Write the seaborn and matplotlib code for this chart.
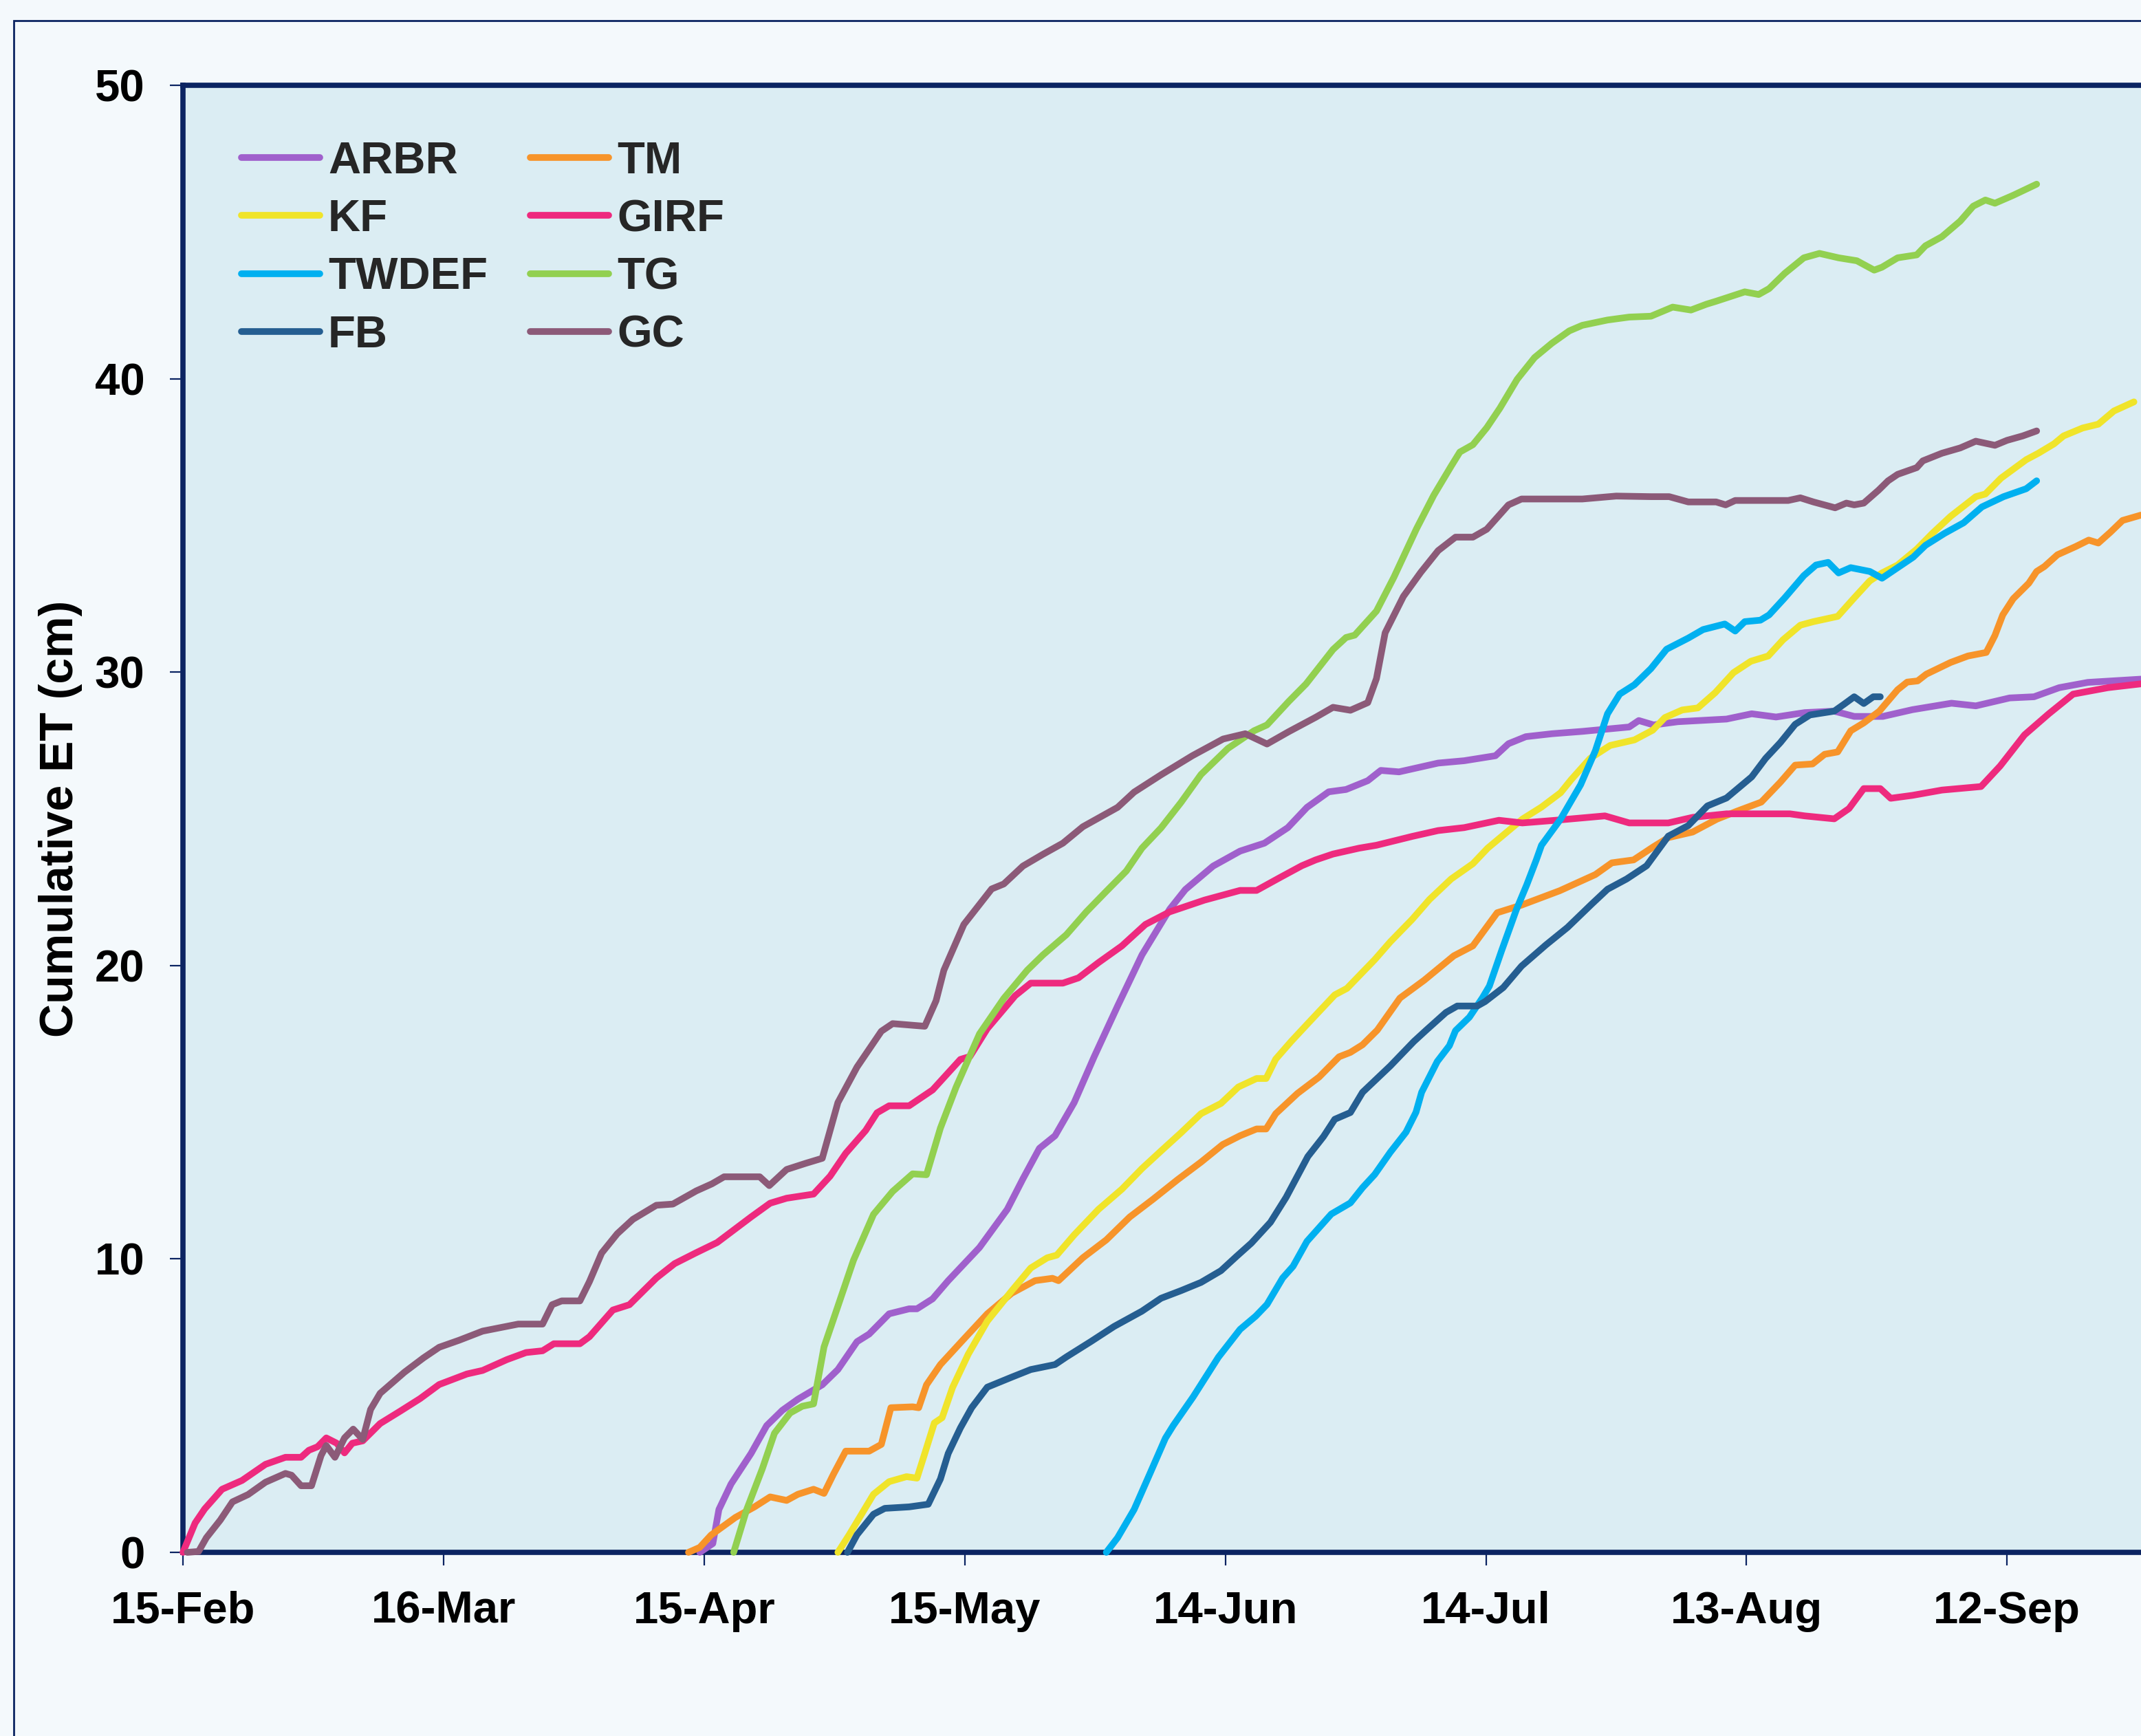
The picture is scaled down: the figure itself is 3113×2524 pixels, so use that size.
import numpy as np
import pandas as pd
import matplotlib
matplotlib.use("Agg")
import matplotlib.pyplot as plt
from matplotlib.patches import Rectangle
import seaborn as sns

# ---------------- data (day offsets from 15-Feb, cumulative ET in cm) ----------------
START = pd.Timestamp("2012-02-15")

ARBR_DAY = [59.5, 61.0, 61.7, 63.1, 65.4, 67.2, 69.0, 70.8, 73.6, 75.4, 77.6, 79.0, 81.3, 83.6, 84.5, 86.3, 88.1,
            91.7, 94.9, 96.7, 98.6, 100.4, 102.6, 104.9, 107.6, 110.4, 113.6, 115.4, 118.6, 121.7, 124.5, 127.2,
            129.4, 131.9, 133.9, 136.4, 137.9, 140.0, 144.5, 147.5, 151.1, 152.6, 154.6, 157.6, 161.1, 166.5,
            167.6, 169.3, 172.1, 177.7, 180.6, 183.4, 186.7, 190.1, 192.4, 195.7, 199.1, 203.6, 206.4, 210.3,
            213.1, 216.0, 219.3, 225.4]
ARBR_ET = [0.0, 0.3, 1.46, 2.33, 3.37, 4.32, 4.84, 5.22, 5.71, 6.23, 7.18, 7.44, 8.13, 8.3, 8.3, 8.64, 9.26,
           10.39, 11.69, 12.73, 13.77, 14.2, 15.33, 16.89, 18.62, 20.36, 21.92, 22.59, 23.39, 23.9, 24.17, 24.7,
           25.39, 25.92, 26.0, 26.3, 26.65, 26.6, 26.9, 26.98, 27.15, 27.56, 27.8, 27.9, 27.98, 28.13,
           28.35, 28.2, 28.31, 28.4, 28.58, 28.47, 28.62, 28.67, 28.49, 28.49, 28.72, 28.94, 28.85, 29.12,
           29.16, 29.47, 29.65, 29.76]

TM_DAY = [58.2, 59.5, 60.8, 63.6, 65.8, 67.6, 69.5, 70.8, 72.6, 73.8, 74.9, 76.3, 79.0, 80.4, 81.5, 84.0, 84.7,
          85.6, 87.2, 89.9, 92.6, 95.4, 98.1, 100.1, 100.8, 103.6, 106.3, 109.0, 111.7, 114.5, 117.2, 119.7,
          121.7, 123.6, 124.7, 125.8, 128.3, 130.8, 133.1, 134.4, 135.8, 137.5, 140.1, 142.9, 146.3, 148.5,
          151.3, 154.1, 158.5, 162.6, 164.5, 167.0, 169.3, 171.0, 173.8, 176.6, 178.9, 181.7, 183.9, 185.6,
          187.6, 189.0, 190.5, 192.0, 193.5, 195.3, 197.4, 198.5, 199.7, 200.7, 203.5, 205.5, 207.6, 208.6,
          209.5, 210.7, 212.5, 213.4, 214.3, 215.8, 217.9, 219.4, 220.5, 221.9, 223.3, 225.4]
TM_ET = [0.0, 0.17, 0.59, 1.19, 1.55, 1.89, 1.77, 1.98, 2.15, 2.01, 2.67, 3.45, 3.45, 3.68, 4.93, 4.96, 4.93,
         5.71, 6.4, 7.27, 8.13, 8.83, 9.26, 9.34, 9.26, 10.04, 10.65, 11.43, 12.04, 12.7, 13.3, 13.9,
         14.2, 14.43, 14.43, 14.95, 15.64, 16.2, 16.89, 17.04, 17.3, 17.8, 18.89, 19.5, 20.33, 20.67,
         21.8, 22.06, 22.55, 23.1, 23.5, 23.6, 24.05, 24.36, 24.55, 24.99, 25.26, 25.57, 26.25, 26.83,
         26.87, 27.2, 27.28, 28.0, 28.27, 28.67, 29.4, 29.66, 29.7, 29.93, 30.33, 30.55, 30.67, 31.25,
         31.95, 32.5, 33.03, 33.43, 33.6, 34.0, 34.28, 34.5, 34.4, 34.77, 35.17, 35.35]

KF_DAY = [75.4, 76.7, 78.1, 79.5, 81.3, 83.3, 84.5, 85.4, 86.5, 87.4, 88.6, 90.4, 92.6, 95.4, 97.6, 99.5, 100.6,
          102.6, 105.4, 108.1, 110.4, 112.6, 114.9, 117.2, 119.5, 121.5, 123.6, 124.7, 125.8, 127.6, 129.9,
          132.6, 134.0, 137.2, 139.0, 141.5, 143.5, 146.0, 148.5, 150.2, 154.2, 156.4, 158.6, 159.8, 162.0,
          164.3, 167.1, 169.2, 170.6, 172.6, 174.4, 176.4, 178.5, 180.5, 182.5, 184.2, 186.2, 187.7, 190.5,
          192.4, 194.2, 195.6, 197.4, 199.6, 201.4, 203.5, 206.4, 207.5, 209.3, 212.2, 213.6, 215.4, 216.5,
          218.7, 220.5, 222.3, 224.6]
KF_ET = [0.0, 0.6, 1.29, 1.98, 2.41, 2.58, 2.53, 3.37, 4.41, 4.59, 5.62, 6.75, 7.88, 8.91, 9.69, 10.04, 10.13,
         10.82, 11.69, 12.38, 13.08, 13.68, 14.3, 14.95, 15.3, 15.86, 16.15, 16.15, 16.81, 17.42, 18.15,
         19.0, 19.22, 20.2, 20.81, 21.57, 22.25, 22.95, 23.47, 24.0, 24.99, 25.4, 25.89, 26.33, 27.06,
         27.5, 27.69, 28.02, 28.45, 28.71, 28.78, 29.3, 29.98, 30.37, 30.55, 31.1, 31.6, 31.72, 31.9,
         32.53, 33.11, 33.38, 33.65, 34.19, 34.73, 35.31, 35.98, 36.07, 36.61, 37.24, 37.46, 37.78, 38.05,
         38.32, 38.45, 38.9, 39.21]

GIRF_DAY = [0.0, 1.4, 2.5, 4.5, 6.8, 9.5, 11.8, 13.6, 14.5, 15.5, 16.5, 17.7, 18.6, 19.5, 20.7, 22.7, 25.0,
            27.3, 29.5, 32.7, 34.5, 37.3, 39.5, 41.4, 42.7, 45.7, 46.8, 49.5, 51.4, 54.5, 56.6, 59.0, 61.5,
            65.4, 67.6, 69.5, 72.6, 74.5, 76.3, 78.6, 79.9, 81.3, 83.6, 86.3, 89.5, 90.6, 92.6, 95.8, 97.6,
            101.3, 103.1, 105.4, 108.1, 110.8, 113.6, 117.6, 121.7, 123.6, 126.3, 128.8, 130.4, 132.4, 135.4,
            137.4, 141.5, 144.5, 147.5, 151.5, 154.2, 158.0, 163.7, 166.5, 171.0, 173.8, 177.7, 185.0, 186.7,
            190.1, 191.8, 193.5, 195.4, 196.6, 199.1, 202.5, 207.0, 209.2, 212.0, 214.8, 217.6, 221.6, 225.4]
GIRF_ET = [0.0, 1.0, 1.48, 2.15, 2.45, 3.0, 3.24, 3.24, 3.48, 3.6, 3.9, 3.72, 3.39, 3.72, 3.8, 4.39, 4.81,
           5.24, 5.72, 6.08, 6.2, 6.57, 6.81, 6.87, 7.11, 7.11, 7.35, 8.26, 8.44, 9.35, 9.84, 10.2, 10.56,
           11.43, 11.9, 12.07, 12.21, 12.82, 13.6, 14.38, 14.98, 15.22, 15.22, 15.76, 16.8, 16.9, 17.85, 18.97, 19.4,
           19.4, 19.58, 20.1, 20.67, 21.4, 21.83, 22.23, 22.56, 22.56, 23.0, 23.4, 23.6, 23.8, 24.0,
           24.1, 24.4, 24.6, 24.7, 24.95, 24.86, 24.95, 25.1, 24.86, 24.86, 25.05, 25.17, 25.17, 25.1,
           25.0, 25.35, 26.03, 26.03, 25.7, 25.8, 25.98, 26.1, 26.8, 27.86, 28.58, 29.25, 29.47, 29.6]

TWDEF_DAY = [106.3, 107.6, 109.5, 111.3, 113.1, 114.0, 116.3, 119.2, 121.7, 123.5, 124.8, 126.6, 127.8, 129.4,
             132.2, 134.4, 135.8, 137.2, 139.0, 140.8, 141.95, 142.6, 144.4, 145.8, 146.5, 148.1, 149.6, 150.4,
             151.8, 153.5, 154.7, 155.8, 156.4, 158.6, 160.9, 162.6, 164.0, 165.4, 167.1, 169.0, 170.8, 173.3,
             175.0, 177.5, 178.7, 179.8, 181.6, 182.6, 184.4, 186.6, 188.0, 189.4, 190.6, 192.0, 194.2, 195.6,
             197.4, 199.2, 200.6, 202.8, 205.0, 207.1, 209.6, 212.2, 213.4]
TWDEF_ET = [0.0, 0.5, 1.46, 2.67, 3.89, 4.32, 5.3, 6.65, 7.6, 8.05, 8.45, 9.35, 9.75, 10.6,
            11.53, 11.91, 12.43, 12.88, 13.64, 14.32, 15.0, 15.68, 16.73, 17.27, 17.78, 18.24, 18.9, 19.3,
            20.5, 21.9, 22.75, 23.6, 24.1, 24.99, 26.16, 27.32, 28.58, 29.25, 29.57, 30.12, 30.78, 31.16,
            31.45, 31.64, 31.4, 31.72, 31.77, 31.95, 32.53, 33.29, 33.65, 33.74, 33.38, 33.56, 33.43, 33.2,
            33.56, 33.92, 34.32, 34.73, 35.09, 35.63, 35.98, 36.25, 36.52]

TG_DAY = [63.4, 64.9, 66.7, 68.1, 69.9, 71.3, 72.6, 73.8, 75.4, 77.2, 79.5, 81.7, 84.0, 85.6, 87.2, 89.0, 91.7,
          94.5, 97.2, 99.0, 101.7, 104.0, 106.3, 108.6, 110.4, 112.6, 114.9, 117.2, 120.3, 123.3, 124.8, 127.3,
          129.3, 132.4, 133.9, 134.9, 137.4, 139.4, 142.0, 144.0, 146.0, 147.0, 148.5, 150.1, 151.6, 153.6,
          155.6, 157.6, 159.6, 161.1, 164.0, 166.5, 169.0, 171.5, 173.6, 175.4, 176.5, 179.8, 181.4, 182.6,
          184.4, 186.6, 188.4, 190.6, 192.7, 194.7, 195.6, 197.4, 199.6, 200.6, 202.5, 204.6, 206.1, 207.5,
          208.6, 210.7, 213.4]
TG_ET = [0.0, 1.46, 2.85, 4.06, 4.75, 4.98, 5.06, 7.0, 8.39, 9.96, 11.52, 12.3, 12.9, 12.87, 14.46, 15.85, 17.67,
         18.88, 19.84, 20.36, 21.05, 21.83, 22.53, 23.22, 24.0, 24.69, 25.56, 26.51, 27.4, 28.0, 28.2, 29.0,
         29.6, 30.77, 31.18, 31.26, 32.08, 33.23, 34.88, 36.03, 37.02, 37.5, 37.75, 38.33, 38.99, 39.98,
         40.72, 41.21, 41.63, 41.82, 42.0, 42.1, 42.13, 42.44, 42.34, 42.54, 42.64, 42.96, 42.87, 43.07,
         43.59, 44.12, 44.27, 44.12, 44.02, 43.7, 43.8, 44.12, 44.22, 44.53, 44.84, 45.37, 45.88, 46.09,
         45.98, 46.25, 46.63]

FB_DAY = [76.5, 77.6, 79.5, 80.8, 83.6, 85.8, 87.2, 88.1, 89.5, 90.8, 92.6, 95.4, 97.6, 100.4, 101.7, 104.5,
          107.2, 110.4, 112.6, 114.9, 117.2, 119.5, 121.3, 123.0, 125.2, 127.0, 129.5, 131.3, 132.6, 134.4,
          135.8, 139.0, 141.7, 143.1, 145.4, 146.7, 149.0, 149.9, 152.0, 154.1, 156.9, 159.4, 162.2, 164.0,
          166.2, 168.5, 171.0, 173.3, 175.5, 177.7, 180.6, 182.2, 183.9, 185.6, 187.3, 190.1, 191.2, 192.4,
          193.5, 194.6, 195.4]
FB_ET = [0.0, 0.6, 1.3, 1.5, 1.55, 1.64, 2.5, 3.37, 4.24, 4.93, 5.63, 5.97, 6.23, 6.4, 6.66, 7.18,
         7.7, 8.22, 8.66, 8.92, 9.2, 9.6, 10.09, 10.54, 11.25, 12.1, 13.49, 14.17, 14.76, 14.99,
         15.68, 16.58, 17.41, 17.79, 18.4, 18.62, 18.62, 18.77, 19.25, 19.98, 20.7, 21.3, 22.1, 22.6,
         22.95, 23.4, 24.41, 24.77, 25.44, 25.71, 26.43, 27.06, 27.6, 28.22, 28.54, 28.67, 28.9, 29.16,
         28.93, 29.16, 29.16]

GC_DAY = [0.5, 1.8, 2.7, 4.3, 5.7, 7.5, 9.5, 11.8, 12.5, 13.6, 14.8, 15.9, 16.5, 17.5, 18.6, 19.6, 20.7, 21.6,
          22.7, 24.1, 25.5, 27.7, 29.5, 31.8, 34.5, 38.6, 41.4, 42.5, 43.6, 45.7, 46.8, 48.2, 50.0, 51.8, 54.5,
          56.4, 59.1, 60.9, 62.3, 66.4, 67.5, 69.5, 71.7, 73.6, 75.4, 77.6, 80.4, 81.7, 85.4, 86.7, 87.6, 89.9,
          93.1, 94.5, 96.7, 99.0, 101.3, 103.6, 107.6, 109.5, 112.6, 116.2, 119.75, 122.3, 124.8, 127.3, 130.4,
          132.4, 134.4, 136.4, 137.4, 138.4, 140.5, 142.5, 144.5, 146.5, 148.5, 150.1, 152.6, 154.1, 161.1,
          165.0, 169.0, 171.1, 173.3, 176.5, 177.6, 178.7, 184.8, 186.2, 187.7, 190.2, 191.5, 192.4, 193.5,
          195.2, 196.3, 197.4, 199.6, 200.3, 202.5, 204.6, 206.4, 208.6, 210.0, 211.8, 213.4]
GC_ET = [0.0, 0.03, 0.5, 1.1, 1.72, 1.97, 2.39, 2.69, 2.63, 2.27, 2.27, 3.3, 3.64, 3.24, 3.9, 4.2, 3.85, 4.87,
         5.42, 5.78, 6.14, 6.63, 6.99, 7.23, 7.54, 7.78, 7.78, 8.44, 8.57, 8.57, 9.23, 10.2, 10.86, 11.35, 11.83,
         11.87, 12.32, 12.56, 12.8, 12.8, 12.5, 13.05, 13.26, 13.43, 15.33, 16.54, 17.76, 18.02, 17.93, 18.8, 19.84, 21.4,
         22.61, 22.78, 23.39, 23.79, 24.17, 24.73, 25.39, 25.91, 26.5, 27.15, 27.72, 27.9, 27.55, 27.97, 28.46,
         28.8, 28.7, 28.96, 29.78, 31.34, 32.58, 33.4, 34.14, 34.6, 34.6, 34.87, 35.7, 35.9, 35.9,
         36.0, 35.98, 35.98, 35.8, 35.8, 35.7, 35.85, 35.85, 35.94, 35.8, 35.6, 35.76, 35.7, 35.76,
         36.2, 36.52, 36.74, 36.97, 37.2, 37.46, 37.64, 37.87, 37.73, 37.9, 38.05, 38.22]

DRAW_ORDER = ["ARBR", "TM", "KF", "GIRF", "TWDEF", "TG", "FB", "GC"]
LEGEND_ORDER = ["ARBR", "KF", "TWDEF", "FB", "TM", "GIRF", "TG", "GC"]
COLORS = {"ARBR": "#A060CC", "TM": "#F7942A", "KF": "#F0E42A", "GIRF": "#EE2A7E",
          "TWDEF": "#00B0F0", "TG": "#92D050", "FB": "#255E91", "GC": "#8C5A78"}
SERIES_DATA = {"ARBR": (ARBR_DAY, ARBR_ET), "TM": (TM_DAY, TM_ET), "KF": (KF_DAY, KF_ET),
               "GIRF": (GIRF_DAY, GIRF_ET), "TWDEF": (TWDEF_DAY, TWDEF_ET), "TG": (TG_DAY, TG_ET),
               "FB": (FB_DAY, FB_ET), "GC": (GC_DAY, GC_ET)}

TICK_DAYS = [0, 30, 60, 90, 120, 150, 180, 210]
TICK_LABELS = ["15-Feb", "16-Mar", "15-Apr", "15-May", "14-Jun", "14-Jul", "13-Aug", "12-Sep"]
Y_TICKS = [0, 10, 20, 30, 40, 50]
Y_LABEL = "Cumulative ET (cm)"

# ---------------- build long-form table ----------------
frames = []
for name in DRAW_ORDER:
    d, v = SERIES_DATA[name]
    frames.append(pd.DataFrame({"date": START + pd.to_timedelta(np.asarray(d), unit="D"),
                                "et": v, "series": name}))
df = pd.concat(frames, ignore_index=True)

# ---------------- style ----------------
sns.set_theme(style="white")
plt.rcParams["font.family"] = ["Liberation Sans", "DejaVu Sans"]
plt.rcParams["font.weight"] = "bold"
plt.rcParams["axes.labelweight"] = "bold"

W, H = 3113, 2524
DPI = 100
FIG_BG = "#F4F9FC"
AX_BG = "#DBEDF3"
NAVY = "#0B2462"
LW = 7.0

fig = plt.figure(figsize=(W / DPI, H / DPI), dpi=DPI, facecolor=FIG_BG)
ax_left, ax_top, ax_bottom = 266, 124, 2257
x_span_days = 240
px_per_day = 12.63
ax_w = x_span_days * px_per_day
ax = fig.add_axes([ax_left / W, 1 - ax_bottom / H, ax_w / W, (ax_bottom - ax_top) / H])
ax.set_facecolor(AX_BG)

handles = {}
for name in DRAW_ORDER:
    sub = df[df["series"] == name]
    sns.lineplot(data=sub, x="date", y="et", color=COLORS[name],
                 estimator=None, sort=False, ax=ax, legend=False)
    line = ax.lines[-1]
    line.set_linewidth(LW)
    line.set_solid_capstyle("round")
    line.set_solid_joinstyle("round")
    line.set_clip_on(False)
    line.set_zorder(3)
    line.set_label(name)
    handles[name] = line

ax.set_xlim(START, START + pd.Timedelta(days=x_span_days))
ax.set_ylim(0, 50)
ax.set_xticks([START + pd.Timedelta(days=d) for d in TICK_DAYS])
ax.set_xticklabels(TICK_LABELS)
ax.set_yticks(Y_TICKS)
ax.set_yticklabels([str(t) for t in Y_TICKS])
ax.set_xlabel("")
ax.set_ylabel(Y_LABEL, fontsize=49, fontweight="bold", color="black")
ax.yaxis.set_label_coords((120 - ax_left) / ax_w, 0.5)

ax.tick_params(axis="both", which="major", direction="out", length=14, width=1.6,
               color=NAVY, pad=26, labelsize=47, labelcolor="black",
               bottom=True, left=True, top=False, right=False)
for lab in ax.get_xticklabels() + ax.get_yticklabels():
    lab.set_fontweight("bold")

for side, sp in ax.spines.items():
    sp.set_color(NAVY)
    sp.set_linewidth(5.5)
    sp.set_zorder(2.5)

leg = ax.legend([handles[n] for n in LEGEND_ORDER], LEGEND_ORDER, ncol=2, loc="upper left",
                bbox_to_anchor=((351 - ax_left) / ax_w, 0.962), frameon=False,
                prop={"size": 47, "weight": "bold"}, handlelength=1.75, handletextpad=0.18,
                columnspacing=0.95, labelspacing=0.37, borderpad=0, borderaxespad=0)
for lh in leg.get_lines():
    lh.set_linewidth(LW)
    lh.set_solid_capstyle("round")

# outer chart-area frame (extends past the cropped right/bottom edges)
fig.add_artist(Rectangle((20 / W, -0.05), 1.2, (1 - 30 / H) + 0.05, transform=fig.transFigure,
                         fill=False, edgecolor=NAVY, linewidth=2.0, zorder=0))

fig.savefig("out.png", dpi=DPI, facecolor=FIG_BG)
